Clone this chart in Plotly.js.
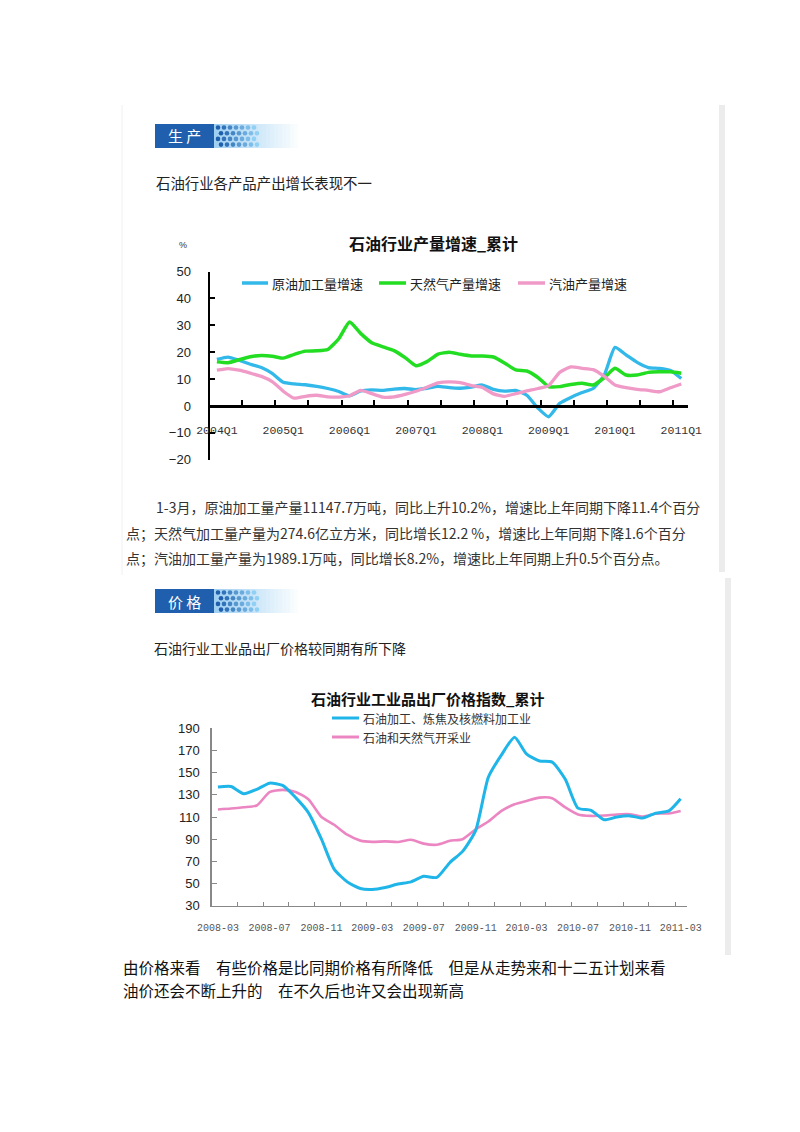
<!DOCTYPE html>
<html><head><meta charset="utf-8">
<script src="https://cdn.plot.ly/plotly-3.0.1.min.js"></script>
<style>html,body{margin:0;padding:0;background:#fff;}#chart{width:800px;height:1132px;}</style>
</head><body><div id="chart"></div>
<script>
// ---------- Chart 1: 石油行业产量增速_累计 (%, bi-monthly readings) ----------
const prodPeriods = ['2004-03','2004-05','2004-07','2004-09','2004-11',
  '2005-01','2005-03','2005-05','2005-07','2005-09','2005-11',
  '2006-01','2006-03','2006-05','2006-07','2006-09','2006-11',
  '2007-01','2007-03','2007-05','2007-07','2007-09','2007-11',
  '2008-01','2008-03','2008-05','2008-07','2008-09','2008-11',
  '2009-01','2009-03','2009-05','2009-07','2009-09','2009-11',
  '2010-01','2010-03','2010-05','2010-07','2010-09','2010-11',
  '2011-01','2011-03'];
const crudeProcessing = [17.3,18.2,17.0,15.5,14.3,12.0,8.8,8.2,7.9,7.3,6.5,5.4,3.8,5.6,6.0,5.8,6.3,6.5,6.1,6.6,7.3,6.8,6.6,7.0,7.8,6.2,5.5,5.8,4.0,-0.8,-4.0,1.0,3.2,5.0,6.5,11.5,21.8,19.0,16.2,14.3,14.0,13.2,10.2];
const naturalGas = [16.4,16.1,17.2,18.3,18.8,18.5,17.8,19.2,20.4,20.5,21.0,25.0,31.2,27.0,23.5,22.0,20.6,18.0,15.0,16.5,19.3,20.0,19.2,18.6,18.6,18.2,16.0,13.4,13.0,10.6,7.2,7.2,8.0,8.5,7.8,10.5,14.0,11.5,11.5,12.5,12.7,12.7,12.2];
const gasoline = [13.3,13.9,13.3,12.2,11.0,9.0,5.5,2.9,3.6,4.0,3.4,3.3,3.8,5.8,4.6,3.3,3.4,4.3,5.5,7.0,8.6,9.0,8.7,7.6,6.9,4.5,3.6,4.6,5.6,6.5,7.6,12.5,14.5,14.0,13.5,11.0,7.8,6.8,6.2,5.8,5.3,6.8,8.2];
const prodTickVals = ['2004-03','2005-03','2006-03','2007-03','2008-03','2009-03','2010-03','2011-03'];
const prodTickText = ['2004Q1','2005Q1','2006Q1','2007Q1','2008Q1','2009Q1','2010Q1','2011Q1'];
const prodMinorTicks = ['2004-07-16','2005-01-16','2005-07-16','2006-01-16','2006-07-16','2007-01-16','2007-07-16',
  '2008-01-16','2008-07-16','2009-01-16','2009-07-16','2010-01-16','2010-07-16','2011-01-16'];
const prodSeriesNames = ['原油加工量增速','天然气产量增速','汽油产量增速'];

// ---------- Chart 2: 石油行业工业品出厂价格指数_累计 (monthly) ----------
const priceMonths = ['2008-03','2008-04','2008-05','2008-06','2008-07','2008-08','2008-09','2008-10','2008-11','2008-12',
  '2009-01','2009-02','2009-03','2009-04','2009-05','2009-06','2009-07','2009-08','2009-09','2009-10','2009-11','2009-12',
  '2010-01','2010-02','2010-03','2010-04','2010-05','2010-06','2010-07','2010-08','2010-09','2010-10','2010-11','2010-12',
  '2011-01','2011-02','2011-03'];
const refiningIndex = [137,137.5,131,135,140.5,138.5,127.5,114,90,63,51.5,45.5,44.7,46.5,49.5,51.5,56.5,55.5,69,79,98,146,166,182,167,160.5,159.5,144,118,116,107.5,110,111,109,113.5,115.5,126.5];
const extractionIndex = [116.8,117.6,118.8,120.4,132.5,134.5,132.5,126,110,103,94,88.7,87.6,88,87.5,89.5,86,85,88.5,90,99,106,115.5,121.5,124.5,127.5,127,118.6,112.3,111,111.3,112.3,112.5,110.5,113,113.2,115.5];
const priceTickVals = ['2008-03','2008-07','2008-11','2009-03','2009-07','2009-11','2010-03','2010-07','2010-11','2011-03'];
const priceMinorTicks = ['2008-04-16','2008-06-16','2008-08-16','2008-10-16','2008-12-16',
  '2009-02-16','2009-04-16','2009-06-16','2009-08-16','2009-10-16','2009-12-16',
  '2010-02-16','2010-04-16','2010-06-16','2010-08-16','2010-10-16','2010-12-16','2011-02-16'];
const priceSeriesNames = ['石油加工、炼焦及核燃料加工业','石油和天然气开采业'];

// ---------- page geometry helpers ----------
const W = 800, H = 1132;
const X = px => px / W, Y = py => 1 - py / H;
const CJK = 'Noto Sans CJK SC, sans-serif';

const prodColors = ['#33b8ea', '#22dd22', '#f09ac8'];
const priceColors = ['#1fb5e8', '#ec86c2'];

const traces = [
  {x: prodPeriods, y: crudeProcessing, name: prodSeriesNames[0], xaxis: 'x', yaxis: 'y', mode: 'lines',
   line: {color: prodColors[0], width: 3.3, shape: 'spline', smoothing: 0.5}},
  {x: prodPeriods, y: naturalGas, name: prodSeriesNames[1], xaxis: 'x', yaxis: 'y', mode: 'lines',
   line: {color: prodColors[1], width: 3.5, shape: 'spline', smoothing: 0.5}},
  {x: prodPeriods, y: gasoline, name: prodSeriesNames[2], xaxis: 'x', yaxis: 'y', mode: 'lines',
   line: {color: prodColors[2], width: 3.3, shape: 'spline', smoothing: 0.5}},
  {x: priceMonths, y: extractionIndex, name: priceSeriesNames[1], xaxis: 'x2', yaxis: 'y2', mode: 'lines',
   line: {color: priceColors[1], width: 2.6, shape: 'spline', smoothing: 0.6}},
  {x: priceMonths, y: refiningIndex, name: priceSeriesNames[0], xaxis: 'x2', yaxis: 'y2', mode: 'lines',
   line: {color: priceColors[0], width: 3, shape: 'spline', smoothing: 0.6}}
];

const shapes = [];
const annotations = [];
function txt(text, px, py, size, opts) {
  annotations.push(Object.assign({text: text, x: X(px), y: Y(py), xref: 'paper', yref: 'paper',
    showarrow: false, xanchor: 'left', yanchor: 'middle',
    font: {family: CJK, size: size, color: '#222'}}, opts || {}));
}
function rect(x0, y0, x1, y1, color) {
  shapes.push({type: 'rect', xref: 'paper', yref: 'paper', x0: X(x0), x1: X(x1), y0: Y(y1), y1: Y(y0),
    fillcolor: color, line: {width: 0}, layer: 'below'});
}
function seg(x0, y0, x1, y1, color, width) {
  shapes.push({type: 'line', xref: 'paper', yref: 'paper', x0: X(x0), x1: X(x1), y0: Y(y0), y1: Y(y1),
    line: {color: color, width: width}});
}
function lerpColor(a, b, t) {
  const pa = [1,3,5].map(i => parseInt(a.substr(i,2),16)), pb = [1,3,5].map(i => parseInt(b.substr(i,2),16));
  return 'rgb(' + pa.map((v,i) => Math.round(v + (pb[i]-v)*t)).join(',') + ')';
}
function banner(label, top) {
  const bot = top + 24;
  rect(155, top, 214, bot, '#1f5fad');
  const n = 22;
  for (let i = 0; i < n; i++) {
    const x0 = 214 + i * 4, t = i / (n - 1);
    rect(x0, top, x0 + 4.2, bot, lerpColor('#9fd0f2', '#ffffff', t));
  }
  for (let c = 0; c < 7; c++) {
    for (let r = 0; r < 4; r++) {
      const cx = 218 + c * 6 + (r % 2) * 3, cy = top + 3.5 + r * 5.7;
      const col = lerpColor('#1f5fad', '#8fd0f5', c / 6);
      shapes.push({type: 'circle', xref: 'paper', yref: 'paper', x0: X(cx - 2.3), x1: X(cx + 2.3),
        y0: Y(cy + 2.3), y1: Y(cy - 2.3), fillcolor: col, line: {width: 0}});
    }
  }
  txt(label, 184, top + 12, 15, {xanchor: 'center', font: {family: CJK, size: 15, color: '#ffffff'}});
}

// panel frames
rect(719, 105, 725, 572, '#ececec');
seg(122, 105, 122, 575, '#f0f0f0', 1);
rect(725, 578, 731, 955, '#ececec');

// section 1
banner('生 产', 124);
txt('石油行业各产品产出增长表现不一', 154, 182, 14.4);
txt('石油行业产量增速_累计', 433, 243, 16, {xanchor: 'center', font: {family: CJK, size: 16, color: '#111', weight: 'bold'}});
txt('%', 183, 245, 9, {xanchor: 'center', font: {family: 'Liberation Sans', size: 9, color: '#333'}});
const leg1x = [[242, 268, 270], [379, 406, 408], [518, 545, 547]];
for (let i = 0; i < 3; i++) {
  seg(leg1x[i][0], 283, leg1x[i][1], 283, prodColors[i], 3.5);
  txt(prodSeriesNames[i], leg1x[i][2], 283, 13, {font: {family: CJK, size: 13, color: '#222'}});
}
const paraFont = {family: CJK, size: 14, color: '#333'};
txt('1-3月，原油加工量产量11147.7万吨，同比上升10.2%，增速比上年同期下降11.4个百分', 154, 507, 14, {font: paraFont});
txt('点；天然气加工量产量为274.6亿立方米，同比增长12.2 %，增速比上年同期下降1.6个百分', 124, 533, 14, {font: paraFont});
txt('点；汽油加工量产量为1989.1万吨，同比增长8.2%，增速比上年同期上升0.5个百分点。', 124, 558, 14, {font: paraFont});

// section 2
banner('价 格', 589);
txt('石油行业工业品出厂价格较同期有所下降', 152, 648, 14);
txt('石油行业工业品出厂价格指数_累计', 428, 698, 15, {xanchor: 'center', font: {family: CJK, size: 15, color: '#111', weight: 'bold'}});
const leg2y = [718, 737];
for (let i = 0; i < 2; i++) {
  seg(332, leg2y[i], 359, leg2y[i], priceColors[i], 3);
  txt(priceSeriesNames[i], 361, leg2y[i], 12, {font: {family: CJK, size: 12, color: '#333'}});
}
const noteFont = {family: CJK, size: 15.5, color: '#111'};
txt('由价格来看　有些价格是比同期价格有所降低　但是从走势来和十二五计划来看', 121, 967, 15.5, {font: noteFont});
txt('油价还会不断上升的　在不久后也许又会出现新高', 121, 990, 15.5, {font: noteFont});

const layout = {
  width: W, height: H, margin: {l: 0, r: 0, t: 0, b: 0},
  paper_bgcolor: '#ffffff', plot_bgcolor: 'rgba(0,0,0,0)', showlegend: false,
  xaxis: {type: 'date', domain: [X(210), X(688)], range: ['2004-01-23', '2011-04-07'],
    anchor: 'free', position: Y(406), showline: true, linecolor: '#000', linewidth: 3,
    showgrid: false, zeroline: false, tickmode: 'array', tickvals: prodTickVals, ticktext: prodTickText,
    ticks: '', ticklabelstandoff: 12,
    tickfont: {family: 'Liberation Mono, monospace', size: 11.5, color: '#333'},
    minor: {tickmode: 'array', tickvals: prodMinorTicks, ticks: 'inside', ticklen: 5, tickwidth: 2, tickcolor: '#000', showgrid: false}},
  yaxis: {domain: [Y(459.8), Y(271.5)], range: [-20, 50], anchor: 'x', tickmode: 'linear', tick0: 0, dtick: 10,
    showline: true, linecolor: '#000', linewidth: 2.5, ticks: 'inside', ticklen: 5, tickwidth: 2, tickcolor: '#000',
    showgrid: false, zeroline: false, ticklabelstandoff: 14,
    tickfont: {family: 'Liberation Sans, Arial', size: 13, color: '#222'}},
  xaxis2: {type: 'date', domain: [X(211.6), X(687)], range: ['2008-02-15', '2011-03-16'], anchor: 'y2',
    showline: true, linecolor: '#888', linewidth: 1.3, showgrid: false, zeroline: false,
    tickmode: 'array', tickvals: priceTickVals, ticktext: priceTickVals, ticks: '', ticklabelstandoff: 12,
    tickfont: {family: 'Liberation Mono, monospace', size: 10, color: '#555'},
    minor: {tickmode: 'array', tickvals: priceMinorTicks, ticks: 'inside', ticklen: 4, tickwidth: 1, tickcolor: '#888', showgrid: false}},
  yaxis2: {domain: [Y(905.7), Y(728.3)], range: [30, 190], anchor: 'x2', tickmode: 'linear', tick0: 30, dtick: 20,
    showline: true, linecolor: '#888', linewidth: 1.3, ticks: 'inside', ticklen: 5, tickwidth: 1, tickcolor: '#888',
    showgrid: false, zeroline: false, ticklabelstandoff: 8,
    tickfont: {family: 'Liberation Sans, Arial', size: 13, color: '#222'}},
  shapes: shapes, annotations: annotations
};

Plotly.newPlot('chart', traces, layout, {displayModeBar: false, staticPlot: true});
</script>
</body></html>
